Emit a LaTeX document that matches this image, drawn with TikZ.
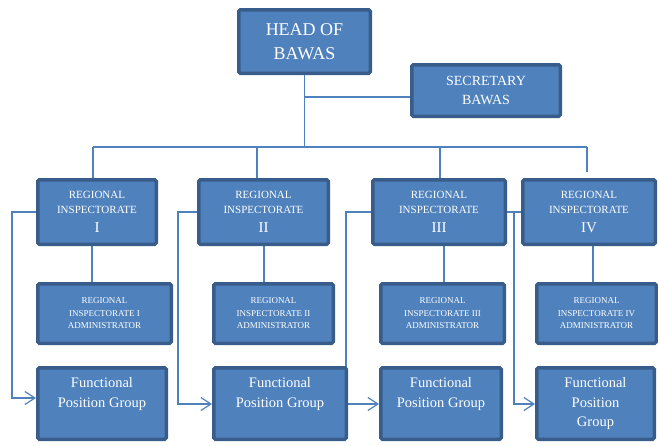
\documentclass[tikz,border=0pt]{standalone}
\usepackage{fontspec}
\setmainfont{Liberation Serif}
\usetikzlibrary{arrows.meta,backgrounds}
\definecolor{boxfill}{HTML}{4F81BD}
\definecolor{boxedge}{HTML}{385D8A}
\definecolor{linkblue}{HTML}{4F81BD}
\tikzset{
  box/.style={draw=boxedge, fill=boxfill, line width=3.5pt, rounded corners=1.5pt, text=white, align=center, inner sep=0pt},
  headbox/.style={box, minimum height=63.5pt, font=\fontsize{18}{24}\selectfont},
  secbox/.style={box, minimum height=51.5pt, font=\fontsize{14}{19}\selectfont},
  regbox/.style={box, minimum height=64.5pt, font=\fontsize{11}{15}\selectfont},
  admbox/.style={box, minimum height=59.5pt, font=\fontsize{9}{12.5}\selectfont},
  fpgbox/.style={box, minimum height=71.5pt, font=\fontsize{14.5}{19.5}\selectfont},
  link/.style={draw=linkblue, line width=1.2pt},
  arr/.style={link, -{Straight Barb[length=10pt,width=13pt]}}
}
\newcommand{\regnum}[1]{{\fontsize{15}{15}\selectfont #1}}
\newcommand{\fpgtext}[2]{\parbox[c][52pt][t]{#1}{\centering #2}}
\begin{document}
\begin{tikzpicture}[x=1pt,y=-1pt]
  \useasboundingbox (0,0) rectangle (658,445);
  %Head and secretary
  \node[headbox, minimum width=131.5pt] (head) at (304.5,41.5) {HEAD OF\\BAWAS};
  \node[secbox, minimum width=148.5pt] (sec) at (486,90.5) {SECRETARY\\BAWAS};
  %Regional inspectorates
  \node[regbox, minimum width=118.5pt] (reg1) at (97,212) {REGIONAL\\INSPECTORATE\\[4pt]\regnum{I}};
  \node[regbox, minimum width=129.5pt] (reg2) at (263.5,212) {REGIONAL\\INSPECTORATE\\[4pt]\regnum{II}};
  \node[regbox, minimum width=132.5pt] (reg3) at (439,212) {REGIONAL\\INSPECTORATE\\[4pt]\regnum{III}};
  \node[regbox, minimum width=132.5pt] (reg4) at (589,212) {REGIONAL\\INSPECTORATE\\[4pt]\regnum{IV}};
  %Administrators
  \node[admbox, minimum width=133.5pt] (adm1) at (104.5,313.5) {REGIONAL\\INSPECTORATE I\\ADMINISTRATOR};
  \node[admbox, minimum width=119.5pt] (adm2) at (273.5,313.5) {REGIONAL\\INSPECTORATE II\\ADMINISTRATOR};
  \node[admbox, minimum width=123.5pt] (adm3) at (442.5,313.5) {REGIONAL\\INSPECTORATE III\\ADMINISTRATOR};
  \node[admbox, minimum width=119.5pt] (adm4) at (596.5,313.5) {REGIONAL\\INSPECTORATE IV\\ADMINISTRATOR};
  %Functional position groups
  \node[fpgbox, minimum width=128.5pt] (fpg1) at (102,403.5) {\fpgtext{120pt}{Functional\\Position Group}};
  \node[fpgbox, minimum width=132.5pt] (fpg2) at (280,403.5) {\fpgtext{120pt}{Functional\\Position Group}};
  \node[fpgbox, minimum width=120.5pt] (fpg3) at (441,403.5) {\fpgtext{115pt}{Functional\\Position Group}};
  \node[fpgbox, minimum width=117.5pt] (fpg4) at (595.5,403.5) {\fpgtext{110pt}{Functional\\Position\\Group}};
  \begin{pgfonlayer}{background}
    %Head to secretary and bus
    \draw[link] (head.south) -- (head.south |- 0,147);
    \draw[link] (head.south |- 0,97) -- (sec.west |- 0,97);
    \draw[link] (93,147) -- (587,147);
    \draw[link] (93,147) -- (93,0 |- reg1.north);
    \draw[link] (257,147) -- (257,0 |- reg2.north);
    \draw[link] (440,147) -- (440,0 |- reg3.north);
    \draw[link] (587,147) -- (587,172);
    %Inspectorate to administrator
    \draw[link] (92,0 |- reg1.south) -- (92,0 |- adm1.north);
    \draw[link] (264,0 |- reg2.south) -- (264,0 |- adm2.north);
    \draw[link] (444,0 |- reg3.south) -- (444,0 |- adm3.north);
    \draw[link] (593,0 |- reg4.south) -- (593,0 |- adm4.north);
    %Inspectorate to functional group
    \draw[arr] (reg1.west) -- (12,0 |- reg1.west) -- (12,398) -- (fpg1.west |- 0,398);
    \draw[arr] (reg2.west) -- (178,0 |- reg2.west) -- (178,404) -- (fpg2.west |- 0,404);
    \draw[arr] (reg3.west) -- (346,0 |- reg3.west) -- (346,404) -- (fpg3.west |- 0,404);
    \draw[link] (reg3.east) -- (reg4.west);
    \draw[arr] (514,0 |- reg4.west) -- (514,404) -- (fpg4.west |- 0,404);
  \end{pgfonlayer}
\end{tikzpicture}
\end{document}
